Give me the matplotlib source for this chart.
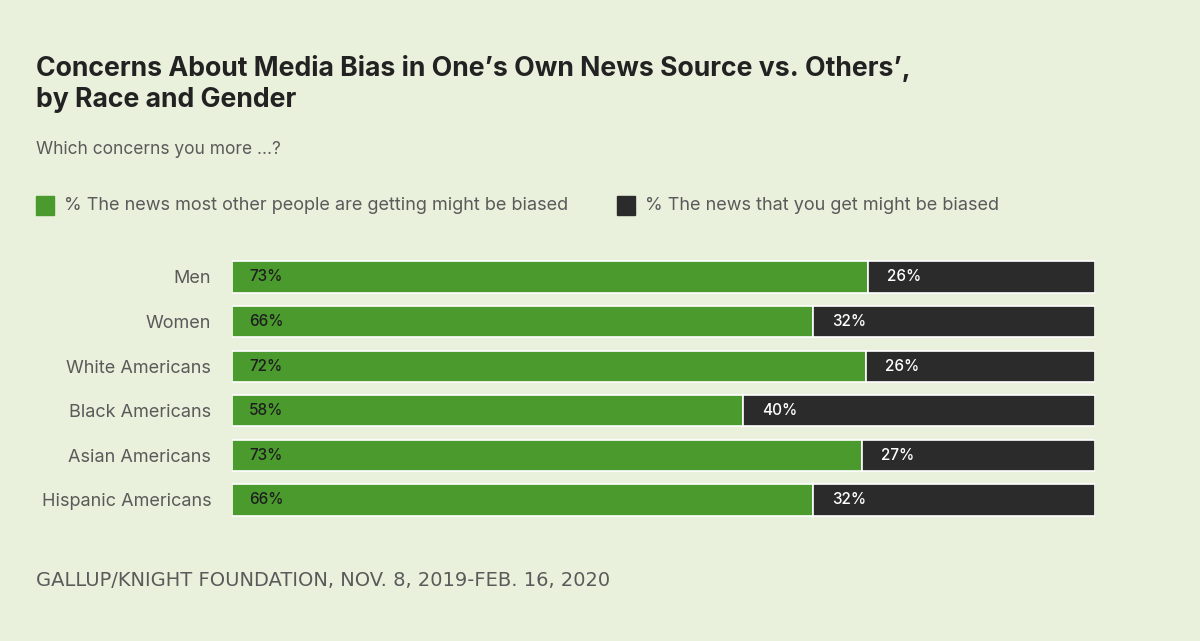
import matplotlib
matplotlib.use("Agg")
import matplotlib.pyplot as plt
import numpy as np
from matplotlib.patches import Rectangle

categories = ["Men", "Women", "White Americans", "Black Americans", "Asian Americans", "Hispanic Americans"]
others_biased = [73, 66, 72, 58, 73, 66]
own_biased = [26, 32, 26, 40, 27, 32]
legend_labels = ["% The news most other people are getting might be biased",
                 "% The news that you get might be biased"]

BG = "#e9f1dc"
GREEN = "#4a9a2e"
DARK = "#2b2b2b"
GRAY = "#5a5a5a"

plt.rcParams['font.family'] = ['Inter', 'DejaVu Sans']

fig = plt.figure(figsize=(12, 6.41), dpi=100)
fig.patch.set_facecolor(BG)
W, H = 1200, 641

ax = fig.add_axes([232 / W, 1 - 522.3 / H, (1095 - 232) / W, 267.6 / H])
ax.set_facecolor(BG)

g = np.array(others_biased, dtype=float)
b = np.array(own_biased, dtype=float)
tot = g + b
gs = g / tot * 100
bs = b / tot * 100
y = np.arange(len(categories))

ax.barh(y, gs, height=0.70, color=GREEN, edgecolor="white", linewidth=1.2)
ax.barh(y, bs, left=gs, height=0.70, color=DARK, edgecolor="white", linewidth=1.2)

for i in range(len(categories)):
    ax.text(2.0, y[i], f"{others_biased[i]}%", va="center", ha="left",
            fontsize=11, color="#1e1e1e", fontweight="medium")
    ax.text(gs[i] + 2.2, y[i], f"{own_biased[i]}%", va="center", ha="left",
            fontsize=11, color="white", fontweight="medium")

ax.set_xlim(0, 100)
ax.set_ylim(len(categories) - 0.5, -0.5)
ax.set_yticks(y)
ax.set_yticklabels(categories, fontsize=13, color=GRAY)
ax.tick_params(axis="y", length=0, pad=15)
ax.set_xticks([])
for s in ax.spines.values():
    s.set_visible(False)

# Title and subtitle
fig.text(36 / W, 1 - 68 / H, "Concerns About Media Bias in One’s Own News Source vs. Others’,",
         fontsize=19.2, fontweight="bold", color="#222222", va="center", ha="left")
fig.text(36 / W, 1 - 100 / H, "by Race and Gender",
         fontsize=19.2, fontweight="bold", color="#222222", va="center", ha="left")
fig.text(36 / W, 1 - 150 / H, "Which concerns you more ...?",
         fontsize=12.5, color=GRAY, va="center", ha="left")

# Legend
fig.patches.append(Rectangle((36 / W, 1 - 215 / H), 18 / W, 19 / H,
                             transform=fig.transFigure, color=GREEN))
fig.text(64 / W, 1 - 206 / H, legend_labels[0], fontsize=13, color=GRAY,
         va="center", ha="left")
fig.patches.append(Rectangle((617 / W, 1 - 215 / H), 18 / W, 19 / H,
                             transform=fig.transFigure, color=DARK))
fig.text(645 / W, 1 - 206 / H, legend_labels[1], fontsize=13, color=GRAY,
         va="center", ha="left")

# Footer
fig.text(36 / W, 1 - 581 / H, "GALLUP/KNIGHT FOUNDATION, NOV. 8, 2019-FEB. 16, 2020",
         fontsize=14, color=GRAY, va="center", ha="left", family="DejaVu Sans")

fig.savefig("out.png", dpi=100, facecolor=BG)
